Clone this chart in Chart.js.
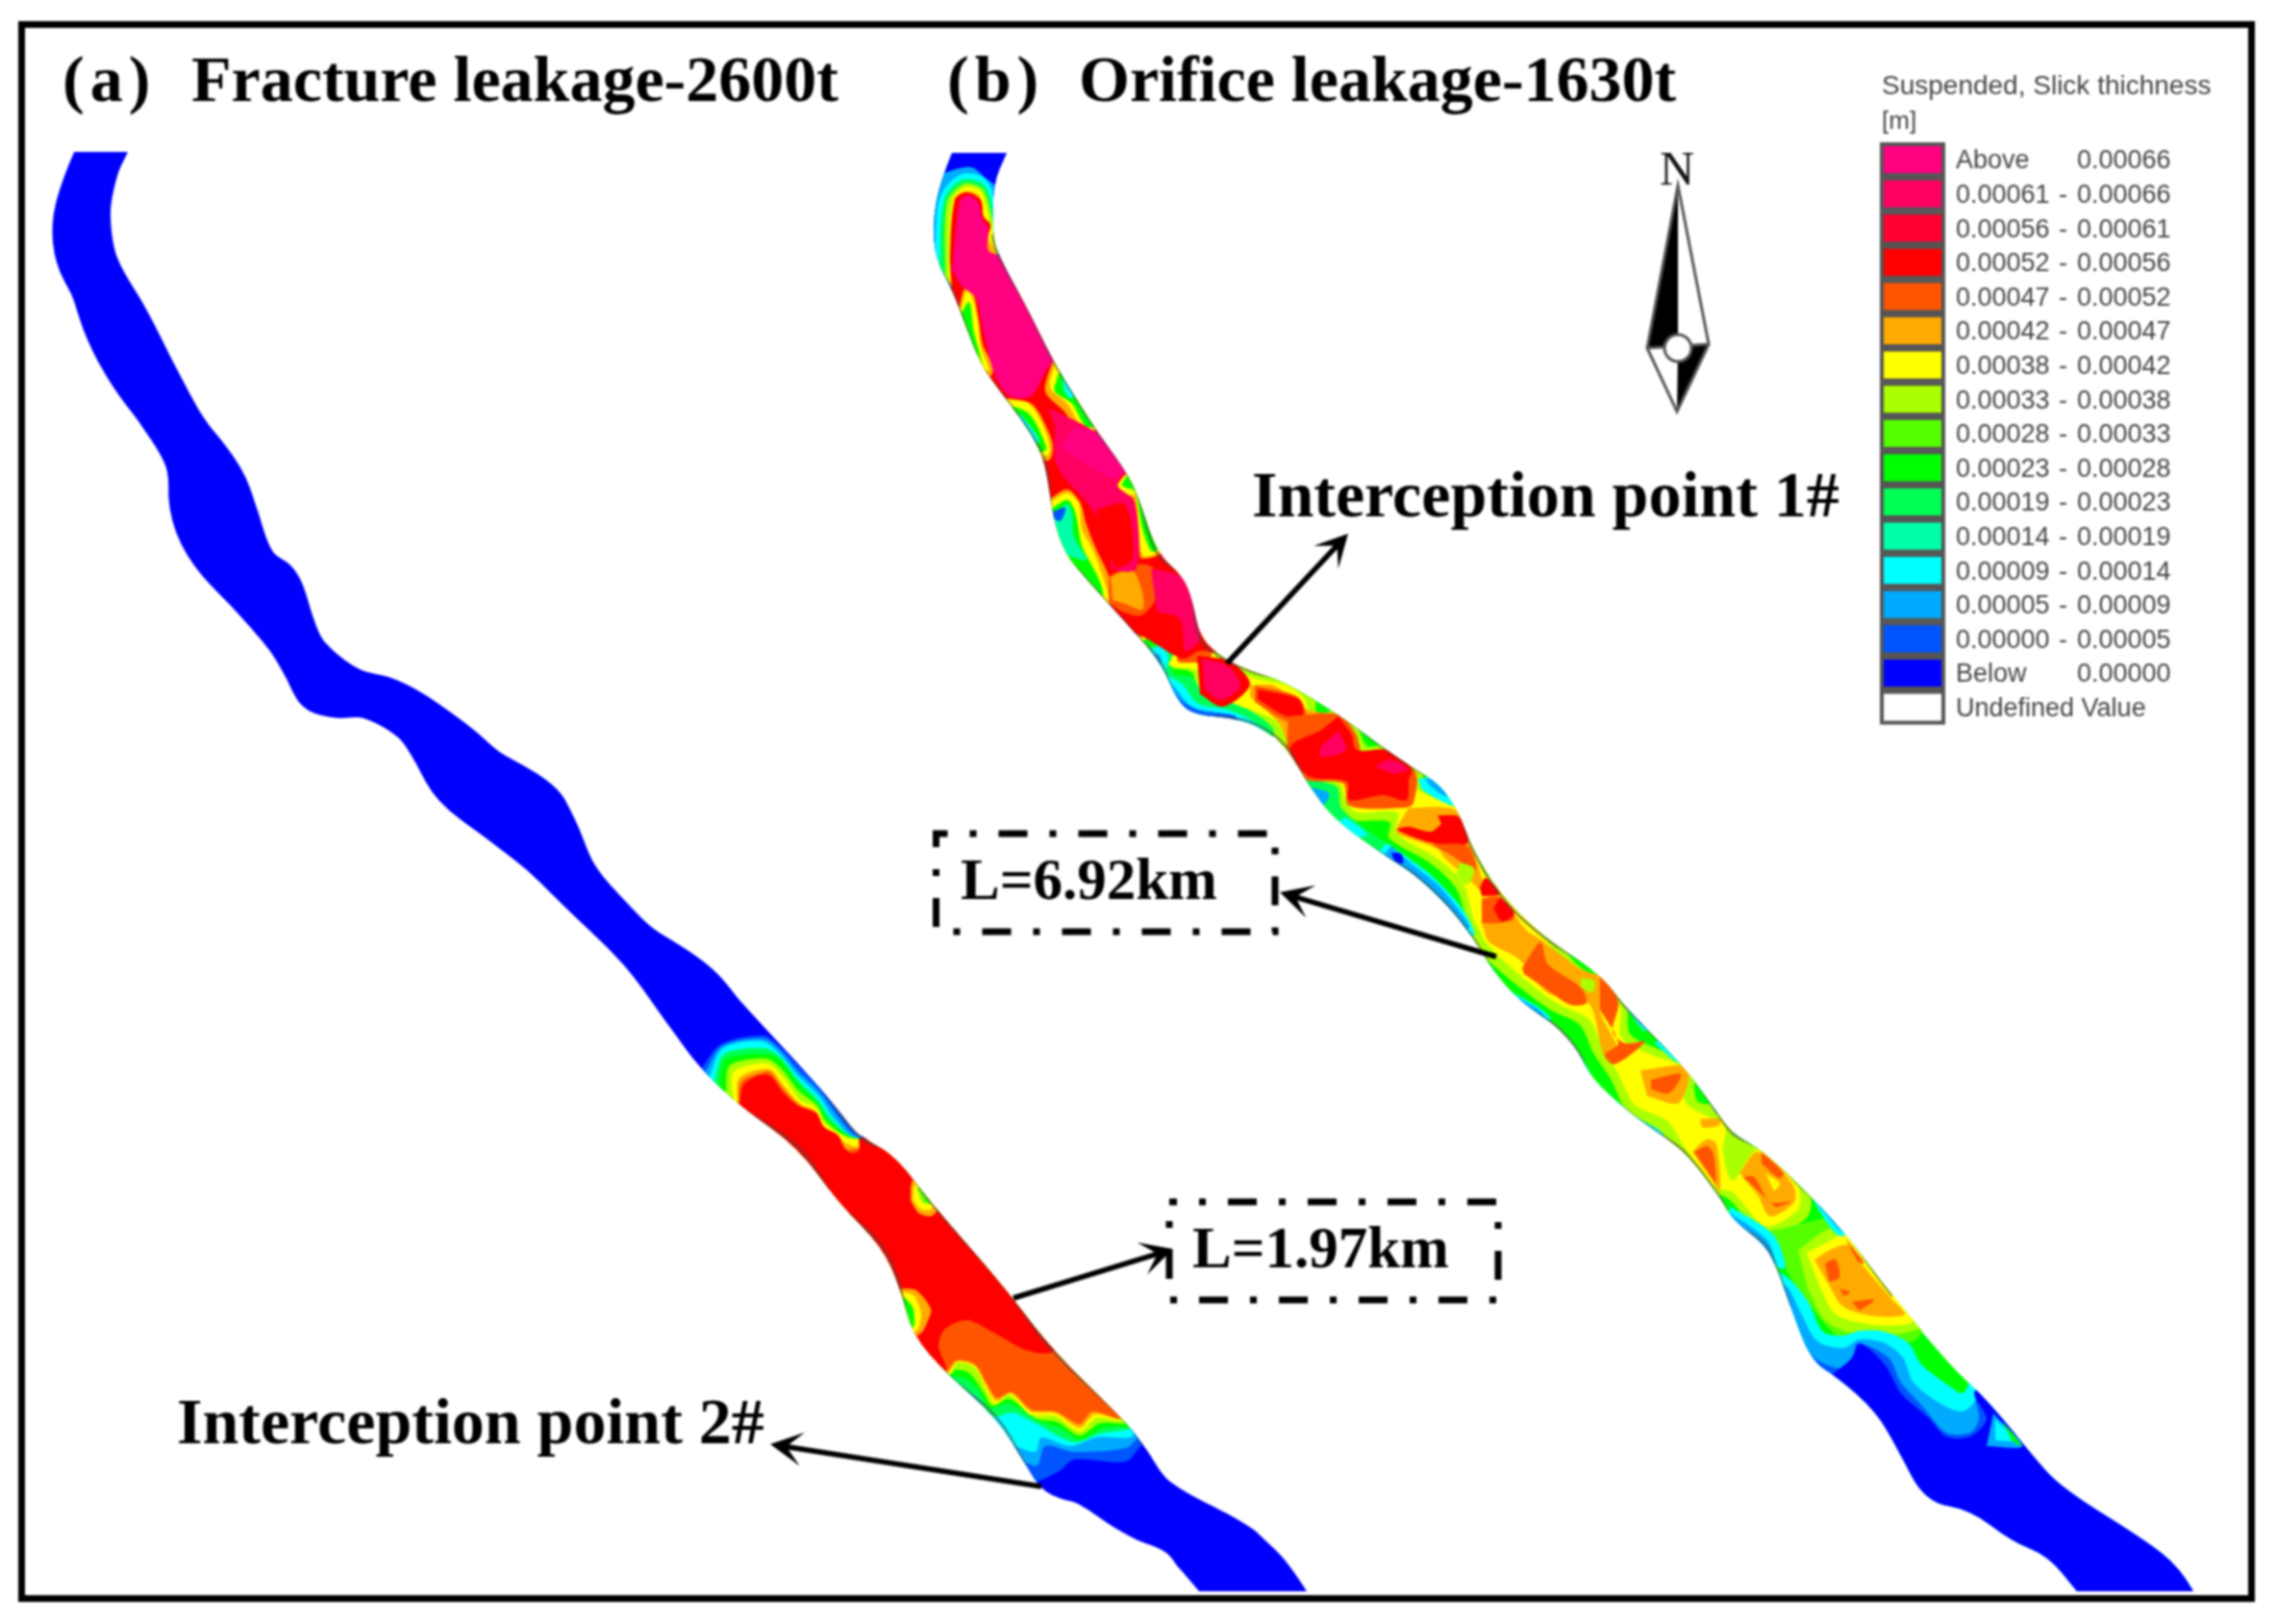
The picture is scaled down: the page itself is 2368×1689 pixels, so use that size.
<!DOCTYPE html>
<html>
<head>
<meta charset="utf-8">
<title>Slick thickness</title>
<script src="https://cdn.jsdelivr.net/npm/chart.js@4"></script>
<style>
  html, body { margin: 0; padding: 0; background: #fff; }
  canvas { display: block; filter: blur(0.8px); }
</style>
</head>
<body>
<canvas id="map" width="2368" height="1689"></canvas>
<script>
// legend rows, hottest first; a contour's band is an index into these
const bandFrom = ["Above", "0.00061", "0.00056", "0.00052", "0.00047", "0.00042", "0.00038", "0.00033", "0.00028",
                  "0.00023", "0.00019", "0.00014", "0.00009", "0.00005", "0.00000", "Below", "Undefined Value"];
const bandTo = ["0.00066", "0.00066", "0.00061", "0.00056", "0.00052", "0.00047", "0.00042", "0.00038", "0.00033",
                "0.00028", "0.00023", "0.00019", "0.00014", "0.00009", "0.00005", "0.00000", ""];
const palette = ["#ff0080", "#ff0060", "#ff0030", "#ff0000", "#ff5500", "#ffaa00", "#ffff00", "#aaff00", "#55ff00",
                 "#00ff00", "#00ff55", "#00ffaa", "#00ffff", "#00aaff", "#0055ff", "#0000ff", "#ffffff"];

// river outlines, flat x,y lists in map units
const riverA = [77,158, 63,191, 53,232, 57,273, 75,308, 90,354, 115,400, 146,441, 173,487, 177,543, 200,589, 240,630,
  280,676, 298,706, 313,737, 342,747, 378,747, 414,767, 432,793, 454,834, 503,870, 548,905, 584,940, 649,1004, 700,1073,
  727,1110, 769,1150, 830,1193, 872,1251, 918,1297, 937,1342, 949,1388, 983,1427, 1037,1475, 1067,1524, 1085,1553,
  1121,1564, 1171,1597, 1213,1615, 1247,1655, 1359,1655, 1340,1625, 1314,1600, 1300,1587, 1217,1541, 1190,1504, 1171,1479,
  1094,1404, 1044,1338, 968,1251, 930,1201, 895,1183, 853,1131, 769,1040, 740,1004, 680,966, 653,940, 619,900, 597,849,
  579,816, 521,783, 485,752, 423,709, 374,696, 338,668, 325,640, 311,594, 284,574, 267,528, 253,487, 213,436, 182,380,
  155,326, 122,268, 115,222, 122,183, 133,158];
const riverB = [990,159, 977,191, 970,232, 973,269, 990,301, 1007,346, 1020,379, 1037,403, 1053,424, 1073,452, 1087,481,
  1095,538, 1107,575, 1127,599, 1153,628, 1180,658, 1207,689, 1227,734, 1247,744, 1277,746, 1307,754, 1338,777, 1361,817,
  1388,853, 1445,893, 1472,910, 1507,943, 1533,977, 1553,1010, 1579,1040, 1618,1067, 1641,1093, 1656,1123, 1698,1160,
  1726,1179, 1755,1201, 1789,1246, 1802,1269, 1836,1295, 1849,1322, 1862,1359, 1883,1415, 1913,1434, 1951,1468, 1973,1506,
  2002,1562, 2049,1570, 2092,1603, 2130,1618, 2160,1655, 2281,1655, 2267,1630, 2228,1600, 2143,1547, 2113,1513, 2071,1461,
  2032,1423, 1968,1348, 1917,1280, 1870,1231, 1832,1196, 1802,1179, 1785,1156, 1752,1110, 1690,1047, 1664,1013, 1606,975,
  1560,930, 1530,880, 1518,847, 1499,817, 1472,800, 1442,780, 1392,743, 1334,708, 1303,699, 1273,685, 1248,664, 1240,624,
  1230,599, 1203,575, 1183,514, 1170,489, 1143,452, 1120,416, 1095,375, 1067,318, 1040,269, 1032,244, 1033,191, 1047,159];

// contours: [band, ring], painted in order, rings may run past the banks (they get clipped to the river)
const contoursA = [
  [15, riverA],
  [14, [727,1115, 750,1086, 794,1077, 811,1088, 832,1110, 853,1131, 876,1160, 895,1181, 980,1200, 1260,1450, 1188,1502, 1171,1520, 1117,1518, 1100,1531, 1067,1541, 900,1460, 700,1190]],
  [13, [733,1116, 751,1088, 793,1080, 810,1091, 831,1115, 852,1135, 872,1162, 892,1182, 980,1200, 1260,1450, 1184,1495, 1171,1506, 1117,1510, 1087,1504, 1079,1524, 1064,1520, 900,1460, 700,1190]],
  [12, [738,1119, 752,1090, 792,1083, 809,1094, 830,1119, 851,1139, 868,1164, 889,1183, 980,1200, 1260,1450, 1182,1489, 1175,1495, 1140,1495, 1113,1504, 1083,1495, 1077,1510, 1056,1504, 900,1460, 700,1190]],
  [10, [743,1124, 753,1096, 794,1090, 810,1098, 830,1123, 850,1143, 865,1164, 888,1183, 980,1200, 1260,1450, 1180,1485, 1144,1491, 1117,1500, 1075,1479, 1052,1469, 1033,1473, 1006,1448, 900,1460, 700,1190]],
  [9, [748,1129, 755,1102, 796,1096, 811,1102, 830,1127, 849,1146, 861,1164, 888,1183, 980,1200, 1260,1450, 1178,1483, 1148,1485, 1123,1497, 1102,1485, 1083,1479, 1050,1460, 1029,1464, 1018,1446, 1002,1433, 989,1433, 900,1460, 700,1190]],
  [7, [755,1135, 759,1108, 797,1101, 813,1112, 831,1135, 849,1149, 859,1166, 884,1183, 980,1200, 1260,1450, 1174,1480, 1144,1480, 1123,1493, 1100,1479, 1077,1475, 1050,1455, 1032,1462, 1022,1447, 1008,1428, 992,1425, 900,1460, 700,1190]],
  [6, [763,1146, 763,1115, 798,1106, 815,1121, 832,1144, 849,1152, 857,1168, 880,1183, 893,1185, 980,1200, 1260,1450, 1169,1477, 1140,1475, 1123,1489, 1098,1473, 1071,1471, 1050,1450, 1035,1460, 1027,1448, 1014,1423, 995,1417, 989,1429, 900,1460, 700,1190]],
  [5, [767,1148, 769,1121, 800,1112, 815,1129, 832,1148, 849,1156, 855,1172, 876,1187, 893,1193, 980,1200, 1260,1450, 1168,1476, 1138,1471, 1123,1485, 1098,1470, 1072,1468, 1051,1449, 1036,1457, 1026,1442, 1014,1421, 995,1416, 986,1428, 900,1460, 700,1190]],
  [4, [768,1149, 771,1125, 794,1115, 801,1115, 815,1133, 831,1149, 849,1157, 856,1172, 874,1184, 880,1195, 893,1195, 980,1200, 1260,1450, 1167,1475, 1136,1468, 1123,1481, 1098,1468, 1073,1466, 1052,1448, 1037,1454, 1025,1437, 1014,1419, 995,1415, 983,1427, 900,1460, 700,1190]],
  [3, [769,1150, 773,1129, 788,1119, 801,1119, 815,1137, 830,1150, 849,1158, 857,1172, 872,1181, 876,1191, 884,1199, 893,1197, 895,1183, 980,1200, 1130,1370, 1094,1406, 1067,1404, 1037,1388, 1006,1373, 983,1382, 976,1400, 983,1427, 900,1460, 700,1190]],
  [5, [947,1235, 951,1225, 985,1240, 970,1264, 956,1262, 947,1249]],
  [6, [950,1238, 954,1228, 985,1240, 968,1258, 957,1257, 950,1248]],
  [8, [954,1237, 958,1232, 985,1245, 968,1252, 960,1251]],
  [5, [939,1340, 953,1342, 968,1361, 966,1371, 956,1388, 930,1390, 925,1345]],
  [6, [941,1344, 951,1348, 958,1367, 953,1384, 930,1390, 925,1345]],
  [9, [941,1350, 949,1359, 951,1372, 949,1382, 930,1390, 925,1350]]
];

const contoursB = [
  [9, riverB],
  // wider ribbons down the channel
  [7, [1215,655, 1250,660, 1280,688, 1310,698, 1342,707, 1367,724, 1370,742, 1395,738, 1412,757, 1422,776, 1445,775, 1478,800, 1482,815, 1525,838, 1538,880, 1552,912, 1530,965, 1515,925, 1488,898, 1445,872, 1445,855, 1405,853, 1392,842, 1385,820, 1352,810, 1333,778, 1320,757, 1296,745, 1268,737, 1245,730, 1240,700, 1216,695]],
  [7, [1550,915, 1575,930, 1615,972, 1640,1003, 1690,1038, 1695,1075, 1722,1090, 1758,1105, 1765,1145, 1785,1150, 1806,1165, 1835,1190, 1880,1232, 1880,1265, 1838,1285, 1795,1245, 1775,1240, 1745,1198, 1725,1175, 1692,1155, 1675,1122, 1657,1095, 1643,1066, 1612,1050, 1572,1020, 1538,988, 1530,965]],
  [8, [1840,1280, 1925,1270, 2000,1370, 1990,1395, 1920,1395, 1880,1355, 1860,1325]],
  [7, [1870,1300, 1898,1280, 1925,1275, 1990,1365, 2000,1380, 1945,1390, 1900,1375, 1880,1340]],
  [6, [1223,660, 1248,669, 1273,691, 1303,705, 1338,713, 1357,727, 1363,748, 1390,745, 1405,760, 1415,783, 1438,780, 1470,802, 1472,820, 1518,843, 1530,880, 1545,910, 1562,925, 1537,963, 1522,920, 1495,893, 1453,867, 1453,845, 1411,845, 1401,835, 1392,813, 1357,803, 1340,773, 1327,750, 1300,738, 1273,730, 1250,720, 1245,690, 1222,688]],
  [6, [1556,925, 1568,933, 1610,980, 1633,1010, 1683,1043, 1687,1080, 1717,1097, 1748,1110, 1753,1147, 1774,1160, 1794,1171, 1792,1198, 1802,1228, 1828,1196, 1870,1235, 1870,1258, 1836,1275, 1802,1240, 1785,1235, 1755,1198, 1734,1166, 1700,1149, 1683,1117, 1667,1090, 1652,1060, 1618,1043, 1579,1013, 1545,980, 1537,963]],
  [6, [1879,1303, 1900,1292, 1919,1284, 1947,1322, 1973,1348, 1990,1374, 1951,1378, 1909,1367, 1892,1337]],
  // cold stripes on the banks
  [10, [1176,675, 1198,672, 1212,670, 1222,682, 1220,700, 1240,705, 1252,722, 1278,730, 1305,742, 1325,762, 1300,790, 1190,740]],
  [12, [1170,680, 1196,676, 1208,672, 1215,684, 1213,700, 1230,712, 1246,732, 1276,738, 1303,750, 1318,766, 1290,780, 1190,740]],
  [13, [1170,690, 1197,680, 1207,682, 1208,698, 1222,715, 1240,735, 1272,742, 1300,755, 1280,770, 1190,745]],
  [14, [1218,715, 1230,730, 1250,740, 1285,745, 1280,760, 1210,745]],
  [10, [1355,810, 1390,818, 1395,840, 1420,862, 1440,875, 1470,895, 1495,915, 1520,945, 1530,970, 1500,970, 1400,880, 1340,820]],
  [12, [1442,877, 1465,893, 1491,913, 1522,947, 1533,973, 1500,960, 1420,900]],
  [13, [1447,880, 1470,900, 1495,920, 1520,950, 1528,965, 1500,960, 1430,900]],
  [13, [1360,818, 1382,825, 1375,838, 1355,830]],
  [12, [1400,850, 1422,868, 1405,870, 1390,855]],
  [15, [1447,887, 1457,888, 1459,898, 1450,895]],
  [12, [1475,810, 1480,822, 1510,838, 1525,838, 1510,805]],
  [13, [1482,810, 1488,818, 1505,828, 1510,810]],
  [12, [1570,1030, 1612,1058, 1600,1075, 1560,1045]],
  [13, [1580,1038, 1605,1055, 1600,1070, 1570,1050]],
  [12, [1625,1075, 1645,1100, 1660,1125, 1700,1160, 1730,1180, 1720,1195, 1620,1110]],
  [13, [1630,1085, 1645,1110, 1655,1128, 1700,1165, 1690,1180, 1620,1110]],
  [14, [1668,1136, 1680,1146, 1685,1158, 1660,1145]],
  [12, [1690,1046, 1710,1072, 1720,1065, 1700,1040]],
  [13, [1693,1046, 1708,1066, 1712,1060, 1698,1042]],
  [12, [1721,1085, 1744,1105, 1752,1105, 1728,1078]],
  [13, [1772,1130, 1785,1158, 1793,1150, 1775,1122]],
  [12, [1802,1178, 1825,1192, 1830,1185, 1805,1170]],
  [12, [1880,1240, 1912,1285, 1930,1275, 1885,1230]],
  [13, [1892,1255, 1917,1282, 1925,1275, 1895,1245]],
  [12, [1800,1255, 1845,1285, 1855,1320, 1790,1280]],
  [13, [1800,1262, 1838,1290, 1845,1315, 1820,1300, 1790,1265]],
  // top of the slick
  [15, [960,150, 1060,150, 1060,300, 960,300]],
  [13, [960,293, 963,191, 988,178, 1010,174, 1025,185, 1037,197, 1040,273, 990,301]],
  [12, [972,281, 975,216, 983,195, 1000,181, 1020,183, 1032,199, 1037,265, 990,297]],
  [10, [977,277, 982,208, 1000,187, 1022,191, 1031,210, 1037,265, 990,297]],
  [7, [983,289, 985,210, 1003,191, 1022,197, 1030,220, 1037,265, 993,301]],
  [6, [987,293, 990,210, 1003,195, 1020,199, 1028,226, 1035,265, 993,301]],
  [5, [988,297, 992,208, 1003,199, 1018,203, 1023,224, 1030,232, 1028,248, 1035,265, 993,301]],
  // neck under the main body
  [6, [1183,655, 1260,655, 1255,720, 1248,705, 1246,697, 1216,692, 1220,680, 1212,664, 1198,662, 1186,668]],
  [4, [1183,650, 1260,650, 1255,700, 1250,690, 1225,688, 1225,675, 1220,657, 1200,655, 1186,663]],
  // main body
  [3, [990,299, 988,265, 993,208, 1005,200, 1020,208, 1023,226, 1030,234, 1027,248, 1028,261, 1040,269, 1120,250, 1280,640, 1273,677, 1247,677, 1230,685, 1183,660, 1150,660, 1040,440, 960,310]],
  [5, [998,318, 1003,301, 1012,305, 1018,334, 1022,358, 1033,383, 1028,393, 1000,390, 980,320]],
  [6, [1000,320, 1005,303, 1011,309, 1017,334, 1020,361, 1029,385, 1023,385, 1000,390, 980,320]],
  [9, [1000,325, 1008,314, 1013,346, 1022,379, 1015,367, 1000,390, 980,330]],
  [5, [1095,375, 1087,407, 1107,428, 1120,446, 1140,448, 1173,416, 1127,334]],
  [6, [1097,379, 1092,403, 1110,420, 1125,444, 1140,446, 1173,416, 1127,334]],
  [9, [1100,391, 1097,407, 1115,420, 1128,442, 1137,444, 1173,416, 1127,334]],
  [12, [1105,395, 1107,407, 1115,414, 1140,380]],
  [5, [1047,414, 1073,420, 1090,448, 1095,465, 1090,479, 1040,470]],
  [6, [1047,416, 1070,420, 1087,448, 1090,473, 1040,470]],
  [9, [1053,422, 1070,430, 1083,452, 1087,469, 1040,470]],
  [12, [1060,430, 1072,444, 1080,460, 1040,470]],
  [5, [1172,491, 1162,505, 1168,516, 1178,518, 1185,575, 1187,581, 1205,577, 1240,540, 1190,470]],
  [6, [1172,493, 1163,505, 1170,514, 1181,516, 1188,577, 1203,575, 1240,540, 1190,470]],
  [9, [1172,495, 1167,505, 1180,511, 1188,550, 1197,573, 1202,573, 1240,540, 1190,470]],
  [5, [1093,518, 1110,509, 1123,522, 1130,546, 1140,571, 1153,599, 1157,624, 1140,650, 1070,540]],
  [6, [1095,520, 1110,513, 1122,524, 1125,550, 1137,573, 1148,603, 1153,626, 1140,650, 1070,540]],
  [9, [1095,528, 1110,520, 1118,532, 1125,567, 1135,587, 1143,603, 1147,617, 1140,650, 1070,540]],
  [11, [1097,538, 1110,524, 1115,534, 1117,558, 1130,583, 1070,560]],
  [14, [1095,532, 1108,528, 1103,542, 1097,540, 1085,540]],
  [4, [1153,599, 1180,587, 1200,591, 1203,620, 1187,640, 1167,636, 1153,626]],
  [5, [1155,600, 1177,593, 1188,616, 1188,634, 1170,628, 1157,624]],
  [1, [1090,424, 1143,452, 1170,489, 1162,505, 1180,522, 1182,591, 1157,591, 1153,558, 1130,522, 1107,497, 1097,477, 1097,444]],
  [1, [1197,591, 1233,603, 1248,664, 1233,677, 1227,644, 1203,636]],
  [3, [1140,530, 1170,525, 1178,580, 1160,590, 1150,560]],
  [0, [990,281, 1000,297, 1015,310, 1023,346, 1035,391, 1050,412, 1072,412, 1087,387, 1095,375, 1110,320, 1060,270, 1028,261, 1028,238, 1022,228, 1017,210, 1007,203, 998,210, 993,252]],
  [0, [1117,444, 1143,452, 1170,491, 1157,497, 1127,481, 1103,465]],
  // below the neck
  [3, [1245,682, 1280,688, 1300,712, 1272,735, 1248,722]],
  [1, [1250,685, 1277,693, 1290,713, 1270,728, 1253,717]],
  [5, [1300,713, 1325,713, 1357,737, 1386,747, 1370,800, 1340,773, 1330,752, 1300,725]],
  [4, [1305,713, 1350,725, 1358,747, 1338,750, 1305,730]],
  [3, [1308,717, 1350,727, 1355,743, 1338,745, 1308,727]],
  [4, [1340,745, 1392,743, 1410,763, 1418,785, 1442,783, 1472,803, 1470,835, 1462,840, 1403,838, 1397,815, 1357,810, 1338,778]],
  [3, [1392,745, 1405,763, 1411,780, 1442,780, 1468,800, 1465,812, 1463,832, 1438,827, 1403,832, 1401,813, 1361,807, 1342,777, 1373,760]],
  [1, [1392,760, 1400,780, 1373,787, 1373,777]],
  [1, [1430,797, 1445,790, 1465,800, 1449,805]],
  [5, [1465,840, 1514,843, 1530,880, 1541,913, 1545,930, 1526,913, 1503,893, 1495,883, 1453,867, 1453,860]],
  [3, [1495,848, 1518,850, 1526,877, 1491,877, 1453,863, 1465,860, 1488,865, 1499,857]],
  [4, [1489,878, 1526,880, 1535,905, 1510,890]],
  [7, [1518,897, 1533,903, 1526,920, 1514,910]],
  [3, [1539,923, 1545,913, 1560,930, 1541,932]],
  [5, [1541,933, 1560,933, 1587,967, 1602,977, 1644,1008, 1667,1017, 1683,1043, 1664,1050, 1683,1093, 1669,1100, 1652,1043, 1610,1033, 1579,997, 1549,980, 1541,960]],
  [4, [1541,935, 1560,933, 1575,955, 1560,960, 1541,960]],
  [3, [1560,933, 1575,950, 1562,958, 1553,945]],
  [4, [1583,1007, 1602,980, 1610,1003, 1644,1027, 1650,1043, 1633,1045, 1606,1027, 1585,1013]],
  [4, [1664,1013, 1683,1042, 1677,1073, 1690,1085, 1711,1083, 1679,1107, 1669,1097, 1683,1085, 1664,1050]],
  [7, [1644,1017, 1658,1020, 1656,1032, 1644,1027]],
  [5, [1706,1113, 1755,1110, 1746,1147, 1713,1140]],
  [4, [1717,1123, 1748,1117, 1736,1137, 1717,1133]],
  [5, [1768,1164, 1789,1164, 1787,1171, 1770,1173]],
  [5, [1760,1198, 1775,1185, 1785,1190, 1789,1239, 1781,1228]],
  [4, [1762,1198, 1775,1192, 1782,1200, 1785,1232]],
  [5, [1809,1220, 1828,1198, 1864,1231, 1866,1250, 1841,1265, 1828,1243]],
  [4, [1813,1224, 1824,1224, 1841,1250, 1862,1250, 1847,1256]],
  [4, [1832,1198, 1855,1220, 1850,1225, 1832,1210]],
  [6, [1836,1220, 1851,1231, 1845,1239]],
  [5, [1887,1310, 1905,1299, 1922,1295, 1939,1318, 1968,1352, 1981,1367, 1951,1369, 1917,1359, 1900,1333]],
  [4, [1898,1314, 1909,1310, 1913,1329, 1902,1333]],
  [4, [1913,1340, 1924,1344, 1917,1348]],
  [4, [1926,1354, 1949,1352, 1934,1363]],
  [4, [1919,1288, 1939,1314, 1932,1312]],
  // downstream end of the slick
  [12, [1849,1322, 1864,1333, 1881,1355, 1896,1385, 1917,1389, 1934,1384, 1960,1385, 1985,1397, 1998,1419, 2028,1442, 2041,1449, 2047,1438, 2037,1423, 2100,1400, 2320,1640, 2320,1689, 1900,1689, 1800,1400]],
  [13, [1851,1333, 1860,1340, 1875,1370, 1890,1395, 1917,1402, 1934,1393, 1960,1397, 1979,1412, 1990,1438, 2020,1461, 2041,1468, 2054,1457, 2054,1446, 2120,1420, 2320,1640, 2320,1689, 1900,1689, 1800,1400]],
  [14, [1858,1363, 1870,1385, 1887,1412, 1913,1423, 1926,1412, 1932,1397, 1964,1412, 1977,1438, 1998,1461, 2024,1490, 2049,1490, 2058,1476, 2056,1446, 2120,1420, 2320,1640, 2320,1689, 1900,1689, 1800,1400]],
  [15, [1904,1431, 1926,1412, 1934,1397, 1960,1419, 1977,1449, 2007,1476, 2024,1494, 2049,1494, 2066,1476, 2054,1447, 2120,1420, 2320,1640, 2320,1689, 1900,1689, 1880,1440]],
  [13, [2073,1470, 2103,1504, 2066,1504]],
  [12, [2075,1476, 2096,1498, 2075,1498]],
  [9, [2083,1479, 2103,1504, 2092,1498]]
];

// annotations
const titles = [["(a)", 65, 105], ["Fracture leakage-2600t", 199, 105], ["(b)", 985, 105], ["Orifice leakage-1630t", 1122, 105]];
const callouts = [["Interception point 1#", 1302, 537], ["Interception point 2#", 184, 1501], ["L=6.92km", 999, 935], ["L=1.97km", 1240, 1318]];
const arrows = [[1276,690, 1402,555], [1556,995, 1331,928], [1054,1350, 1220,1299], [1083,1546, 801,1502]];
const dashBoxes = [[973.5,867, 1326,969, 18], [1216,1250, 1558,1352, 22]];
const frame = [22.5, 25.5, 2341.5, 1662.5];
const compass = { tip: [1745,193], left: [1713,362], right: [1777,358], foot: [1744,428], hub: [1745,362] };

const toPoints = flat => {
  const pts = [];
  for (let i = 0; i < flat.length; i += 2) pts.push({ x: flat[i], y: flat[i + 1] });
  return pts;
};

const fillSets = contoursA.concat(contoursB).map(([band, ring]) => ({
  data: toPoints(ring),
  backgroundColor: palette[band],
  borderWidth: 0,
  fill: "shape",
  pointRadius: 0,
  tension: 0.3
}));

// thin dark bank line, left off over the blue ends
const bankLine = (ring, from, to) => ({
  data: toPoints(ring.concat(ring.slice(0, 2))),
  borderColor: "rgba(70,70,70,0.6)",
  borderWidth: 2.5,
  fill: false,
  pointRadius: 0,
  tension: 0.4,
  segment: { borderColor: c => (c.p0.parsed.y > from && c.p0.parsed.y < to && c.p1.parsed.y > from && c.p1.parsed.y < to) ? undefined : "rgba(0,0,0,0)" }
});

const datasets = fillSets.concat([bankLine(riverA, 1110, 1540), bankLine(riverB, 200, 1400)]);
datasets.forEach((d, i) => { d.order = -i; });

// smooth bank path through the vertex midpoints, the river's cut ends stay square
function tracePath(ctx, x, y, ring) {
  const n = ring.length / 2;
  const X = i => x.getPixelForValue(ring[(i % n) * 2]);
  const Y = i => y.getPixelForValue(ring[(i % n) * 2 + 1]);
  ctx.moveTo(X(0), Y(0));
  for (let i = 1; i <= n; i++) {
    const v = ring[(i % n) * 2 + 1];
    if (v <= 159 || v >= 1655) ctx.lineTo(X(i), Y(i));
    else ctx.quadraticCurveTo(X(i), Y(i), (X(i) + X(i + 1)) / 2, (Y(i) + Y(i + 1)) / 2);
  }
  ctx.closePath();
}

// keep every contour inside the two rivers
const riverClip = {
  id: "riverClip",
  beforeDatasetsDraw(chart) {
    const { ctx, scales: { x, y } } = chart;
    ctx.save();
    ctx.beginPath();
    tracePath(ctx, x, y, riverA);
    tracePath(ctx, x, y, riverB);
    ctx.clip();
  },
  afterDatasetsDraw(chart) {
    chart.ctx.restore();
  }
};

function drawArrow(ctx, x, y, a) {
  const x0 = x.getPixelForValue(a[0]), y0 = y.getPixelForValue(a[1]);
  const x1 = x.getPixelForValue(a[2]), y1 = y.getPixelForValue(a[3]);
  const ang = Math.atan2(y1 - y0, x1 - x0);
  ctx.strokeStyle = "#000";
  ctx.lineWidth = 5.5;
  ctx.setLineDash([]);
  ctx.beginPath(); ctx.moveTo(x0, y0); ctx.lineTo(x1 - 8 * Math.cos(ang), y1 - 8 * Math.sin(ang)); ctx.stroke();
  ctx.fillStyle = "#000";
  ctx.beginPath();
  ctx.moveTo(x1, y1);
  ctx.lineTo(x1 - 38 * Math.cos(ang - 0.48), y1 - 38 * Math.sin(ang - 0.48));
  ctx.lineTo(x1 - 17 * Math.cos(ang), y1 - 17 * Math.sin(ang));
  ctx.lineTo(x1 - 38 * Math.cos(ang + 0.48), y1 - 38 * Math.sin(ang + 0.48));
  ctx.closePath();
  ctx.fill();
}

const overlay = {
  id: "overlay",
  afterDraw(chart) {
    const { ctx, scales: { x, y } } = chart;
    const px = v => x.getPixelForValue(v), py = v => y.getPixelForValue(v);
    ctx.save();

    // frame
    ctx.strokeStyle = "#000";
    ctx.lineWidth = 7;
    ctx.strokeRect(px(frame[0]), py(frame[1]), px(frame[2]) - px(frame[0]), py(frame[3]) - py(frame[1]));

    // titles and callouts
    ctx.fillStyle = "#000";
    ctx.textBaseline = "alphabetic";
    ctx.textAlign = "left";
    ctx.font = "bold 68px 'Liberation Serif'";
    titles.forEach(t => {
      ctx.letterSpacing = t[0].length === 3 ? "6px" : "0px";
      ctx.fillText(t[0], px(t[1]), py(t[2]));
    });
    ctx.letterSpacing = "0px";
    callouts.forEach((t, i) => {
      ctx.font = (i < 2 ? "bold 68px" : "bold 61px") + " 'Liberation Serif'";
      ctx.fillText(t[0], px(t[1]), py(t[2]));
    });

    // dash-dot boxes
    ctx.lineWidth = 7;
    ctx.setLineDash([30, 23, 7, 23]);
    dashBoxes.forEach(b => {
      ctx.lineDashOffset = b[4];
      ctx.strokeRect(px(b[0]), py(b[1]), px(b[2]) - px(b[0]), py(b[3]) - py(b[1]));
    });
    ctx.setLineDash([]);
    ctx.lineDashOffset = 0;

    arrows.forEach(a => drawArrow(ctx, x, y, a));

    // north arrow
    const c = compass;
    ctx.font = "50px 'Liberation Serif'";
    ctx.textAlign = "center";
    ctx.fillStyle = "#111";
    ctx.fillText("N", px(c.tip[0]) - 1, py(192));
    ctx.fillStyle = "#000";
    ctx.beginPath();
    ctx.moveTo(px(c.tip[0]), py(c.tip[1])); ctx.lineTo(px(c.left[0]), py(c.left[1])); ctx.lineTo(px(c.hub[0]), py(c.hub[1]));
    ctx.closePath(); ctx.fill();
    ctx.beginPath();
    ctx.moveTo(px(c.foot[0]), py(c.foot[1])); ctx.lineTo(px(c.right[0]), py(c.right[1])); ctx.lineTo(px(c.hub[0]), py(c.hub[1]));
    ctx.closePath(); ctx.fill();
    ctx.strokeStyle = "#555";
    ctx.lineWidth = 3;
    ctx.beginPath();
    ctx.moveTo(px(c.tip[0]), py(c.tip[1])); ctx.lineTo(px(c.left[0]), py(c.left[1])); ctx.lineTo(px(c.foot[0]), py(c.foot[1]));
    ctx.lineTo(px(c.right[0]), py(c.right[1])); ctx.closePath();
    ctx.moveTo(px(c.left[0]), py(c.left[1])); ctx.lineTo(px(c.right[0]), py(c.right[1]));
    ctx.stroke();
    ctx.fillStyle = "#fff";
    ctx.beginPath(); ctx.arc(px(c.hub[0]), py(c.hub[1]), 14, 0, Math.PI * 2); ctx.fill(); ctx.stroke();

    // legend
    ctx.textAlign = "left";
    ctx.fillStyle = "#444";
    ctx.textBaseline = "middle";
    ctx.font = "28px 'Liberation Sans'";
    ctx.fillText("Suspended, Slick thichness", 1957, 90);
    ctx.font = "26px 'Liberation Sans'";
    ctx.fillText("[m]", 1957, 127);
    ctx.font = "27px 'Liberation Sans'";
    bandFrom.forEach((from, i) => {
      const top = 149 + i * 35.6;
      ctx.fillStyle = palette[i];
      ctx.fillRect(1957, top + 1, 64, 32);
      ctx.strokeStyle = "#555";
      ctx.lineWidth = 4;
      ctx.strokeRect(1957, top + 1, 64, 32);
      ctx.fillStyle = "#444";
      ctx.fillText(from, 2034, top + 19);
      if (bandTo[i]) {
        if (i > 0 && i < 15) ctx.fillText("-", 2141, top + 19);
        ctx.fillText(bandTo[i], 2160, top + 19);
      }
    });
    ctx.restore();
  }
};

new Chart(document.getElementById("map"), {
  type: "line",
  data: { datasets },
  options: {
    responsive: false,
    devicePixelRatio: 1,
    animation: false,
    events: [],
    layout: { padding: 0 },
    plugins: { legend: { display: false }, tooltip: { enabled: false }, title: { display: false } },
    scales: {
      x: { type: "linear", min: 0, max: 2368, display: false },
      y: { type: "linear", min: 0, max: 1689, reverse: true, display: false }
    }
  },
  plugins: [riverClip, overlay]
});
</script>
</body>
</html>
